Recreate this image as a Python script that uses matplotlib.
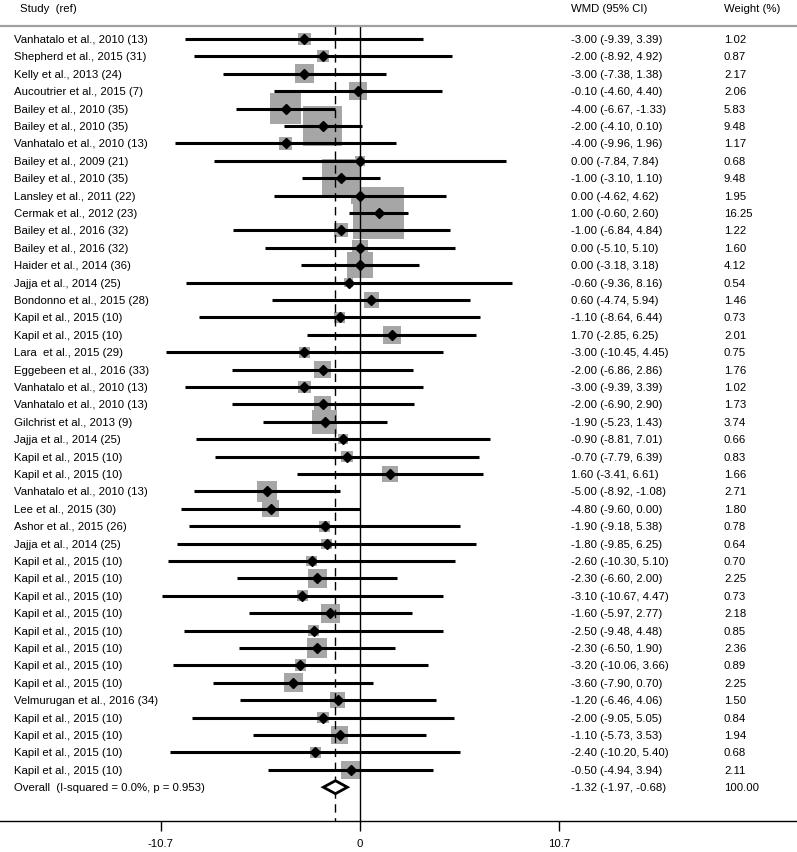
import matplotlib
matplotlib.use("Agg")
import matplotlib.pyplot as plt
from matplotlib.patches import Rectangle, Polygon
import numpy as np

plt.rcParams['font.family'] = ['Liberation Sans', 'DejaVu Sans']

studies = [
    "Vanhatalo et al., 2010 (13)", "Shepherd et al., 2015 (31)", "Kelly et al., 2013 (24)",
    "Aucoutrier et al., 2015 (7)", "Bailey et al., 2010 (35)", "Bailey et al., 2010 (35)",
    "Vanhatalo et al., 2010 (13)", "Bailey et al., 2009 (21)", "Bailey et al., 2010 (35)",
    "Lansley et al., 2011 (22)", "Cermak et al., 2012 (23)", "Bailey et al., 2016 (32)",
    "Bailey et al., 2016 (32)", "Haider et al., 2014 (36)", "Jajja et al., 2014 (25)",
    "Bondonno et al., 2015 (28)", "Kapil et al., 2015 (10)", "Kapil et al., 2015 (10)",
    "Lara  et al., 2015 (29)", "Eggebeen et al., 2016 (33)", "Vanhatalo et al., 2010 (13)",
    "Vanhatalo et al., 2010 (13)", "Gilchrist et al., 2013 (9)", "Jajja et al., 2014 (25)",
    "Kapil et al., 2015 (10)", "Kapil et al., 2015 (10)", "Vanhatalo et al., 2010 (13)",
    "Lee et al., 2015 (30)", "Ashor et al., 2015 (26)", "Jajja et al., 2014 (25)",
    "Kapil et al., 2015 (10)", "Kapil et al., 2015 (10)", "Kapil et al., 2015 (10)",
    "Kapil et al., 2015 (10)", "Kapil et al., 2015 (10)", "Kapil et al., 2015 (10)",
    "Kapil et al., 2015 (10)", "Kapil et al., 2015 (10)", "Velmurugan et al., 2016 (34)",
    "Kapil et al., 2015 (10)", "Kapil et al., 2015 (10)", "Kapil et al., 2015 (10)",
    "Kapil et al., 2015 (10)",
]
wmd = [-3.00, -2.00, -3.00, -0.10, -4.00, -2.00, -4.00, 0.00, -1.00, 0.00,
       1.00, -1.00, 0.00, 0.00, -0.60, 0.60, -1.10, 1.70, -3.00, -2.00,
       -3.00, -2.00, -1.90, -0.90, -0.70, 1.60, -5.00, -4.80, -1.90, -1.80,
       -2.60, -2.30, -3.10, -1.60, -2.50, -2.30, -3.20, -3.60, -1.20, -2.00,
       -1.10, -2.40, -0.50]
lo = [-9.39, -8.92, -7.38, -4.60, -6.67, -4.10, -9.96, -7.84, -3.10, -4.62,
      -0.60, -6.84, -5.10, -3.18, -9.36, -4.74, -8.64, -2.85, -10.45, -6.86,
      -9.39, -6.90, -5.23, -8.81, -7.79, -3.41, -8.92, -9.60, -9.18, -9.85,
      -10.30, -6.60, -10.67, -5.97, -9.48, -6.50, -10.06, -7.90, -6.46, -9.05,
      -5.73, -10.20, -4.94]
hi = [3.39, 4.92, 1.38, 4.40, -1.33, 0.10, 1.96, 7.84, 1.10, 4.62,
      2.60, 4.84, 5.10, 3.18, 8.16, 5.94, 6.44, 6.25, 4.45, 2.86,
      3.39, 2.90, 1.43, 7.01, 6.39, 6.61, -1.08, 0.00, 5.38, 6.25,
      5.10, 2.00, 4.47, 2.77, 4.48, 1.90, 3.66, 0.70, 4.06, 5.05,
      3.53, 5.40, 3.94]
weights = [1.02, 0.87, 2.17, 2.06, 5.83, 9.48, 1.17, 0.68, 9.48, 1.95,
           16.25, 1.22, 1.60, 4.12, 0.54, 1.46, 0.73, 2.01, 0.75, 1.76,
           1.02, 1.73, 3.74, 0.66, 0.83, 1.66, 2.71, 1.80, 0.78, 0.64,
           0.70, 2.25, 0.73, 2.18, 0.85, 2.36, 0.89, 2.25, 1.50, 0.84,
           1.94, 0.68, 2.11]

overall_label = "Overall  (I-squared = 0.0%, p = 0.953)"
overall_est, overall_lo, overall_hi = -1.32, -1.97, -0.68
xticks = [-10.7, 0, 10.7]

# pixel geometry of the figure
W, H = 797, 853
px_x0, px_per_unit = 360, 18.6      # x pixel of 0, pixels per unit
px_y0, px_per_row = 40, 17.4        # y pixel of row 0, pixels per row

fig = plt.figure(figsize=(W / 100, H / 100), dpi=100)
ax = fig.add_axes([0, 0, 1, 1])
ax.set_xlim(-px_x0 / px_per_unit, (W - px_x0) / px_per_unit)
ax.set_ylim((H - px_y0) / px_per_row, -px_y0 / px_per_row)

rows = np.arange(len(studies))
n = len(studies)
top_row = (27 - px_y0) / px_per_row
axis_row = (822 - px_y0) / px_per_row

# weight boxes
for i in rows:
    side = 12.67 * np.sqrt(weights[i])
    bw, bh = side / px_per_unit, side / px_per_row
    ax.add_patch(Rectangle((wmd[i] - bw / 2, i - bh / 2), bw, bh,
                           facecolor='#a6a6a6', edgecolor='none', zorder=1))

# reference lines
ax.plot([0, 0], [top_row, axis_row], color='black', lw=1.0, zorder=2)
ax.plot([overall_est, overall_est], [top_row, axis_row], color='black', lw=1.0,
        ls=(0, (6, 4)), zorder=2)

# confidence intervals and point estimates
ax.hlines(rows, lo, hi, color='black', lw=2.2, zorder=3)
ax.plot(wmd, rows, 'D', color='black', ms=5.5, zorder=4)

# overall diamond
dh = 6.5 / px_per_row
ax.add_patch(Polygon([(overall_lo, n), (overall_est, n - dh), (overall_hi, n),
                      (overall_est, n + dh)], closed=True, facecolor='white',
                     edgecolor='black', lw=2.0, zorder=5))

# header and separator line
ax.plot([-px_x0 / px_per_unit, (W - px_x0) / px_per_unit], [top_row, top_row],
        color='#a0a0a0', lw=1.6, zorder=2)
fs = 8.2
trans = ax.get_yaxis_transform()
head_row = (9 - px_y0) / px_per_row
ax.text(20 / W, head_row, "Study  (ref)", transform=trans, fontsize=fs, va='center')
ax.text(571 / W, head_row, "WMD (95% CI)", transform=trans, fontsize=fs, va='center')
ax.text(724 / W, head_row, "Weight (%)", transform=trans, fontsize=fs, va='center')

# columns
for i in rows:
    ax.text(14 / W, i, studies[i], transform=trans, fontsize=fs, va='center')
    ax.text(571 / W, i, f"{wmd[i]:.2f} ({lo[i]:.2f}, {hi[i]:.2f})",
            transform=trans, fontsize=fs, va='center')
    ax.text(724 / W, i, f"{weights[i]:.2f}", transform=trans, fontsize=fs, va='center')
ax.text(14 / W, n, overall_label, transform=trans, fontsize=fs, va='center')
ax.text(571 / W, n, f"{overall_est:.2f} ({overall_lo:.2f}, {overall_hi:.2f})",
        transform=trans, fontsize=fs, va='center')
ax.text(724 / W, n, "100.00", transform=trans, fontsize=fs, va='center')

# x axis
for s in ['top', 'left', 'right']:
    ax.spines[s].set_visible(False)
ax.spines['bottom'].set_position(('data', axis_row))
ax.spines['bottom'].set_linewidth(1.0)
ax.set_xticks(xticks)
ax.set_xticklabels(["-10.7", "0", "10.7"])
ax.tick_params(axis='x', direction='out', length=7.5, width=1.0, labelsize=fs, pad=5)
ax.set_yticks([])

fig.savefig("out.png", dpi=100)
